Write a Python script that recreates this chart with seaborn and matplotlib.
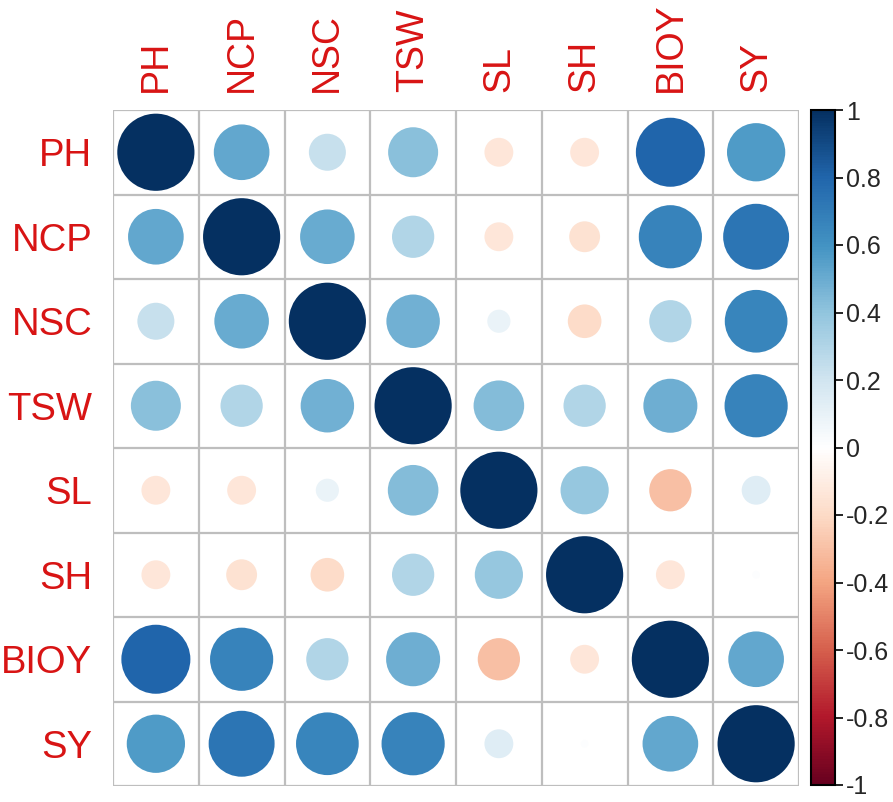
import numpy as np
import pandas as pd
import matplotlib
matplotlib.use("Agg")
import matplotlib.pyplot as plt
import seaborn as sns
from matplotlib.colors import LinearSegmentedColormap, Normalize
from matplotlib.cm import ScalarMappable

traits = ["PH", "NCP", "NSC", "TSW", "SL", "SH", "BIOY", "SY"]

# correlation rows
r_PH = [1.00, 0.52, 0.23, 0.42, -0.14, -0.14, 0.80, 0.57]
r_NCP = [0.52, 1.00, 0.50, 0.30, -0.14, -0.16, 0.67, 0.73]
r_NSC = [0.23, 0.50, 1.00, 0.48, 0.09, -0.19, 0.30, 0.66]
r_TSW = [0.42, 0.30, 0.48, 1.00, 0.43, 0.30, 0.49, 0.67]
r_SL = [-0.14, -0.14, 0.09, 0.43, 1.00, 0.39, -0.30, 0.14]
r_SH = [-0.14, -0.16, -0.19, 0.30, 0.39, 1.00, -0.14, 0.01]
r_BIOY = [0.80, 0.67, 0.30, 0.49, -0.30, -0.14, 1.00, 0.52]
r_SY = [0.57, 0.73, 0.66, 0.67, 0.14, 0.01, 0.52, 1.00]

cbar_ticks = [-1, -0.8, -0.6, -0.4, -0.2, 0, 0.2, 0.4, 0.6, 0.8, 1]
cbar_labels = ["-1", "-0.8", "-0.6", "-0.4", "-0.2", "0", "0.2", "0.4", "0.6", "0.8", "1"]

LABEL_RED = "#D81414"
GRID_GREY = "#BEBEBE"


def main():
    corr = pd.DataFrame([r_PH, r_NCP, r_NSC, r_TSW, r_SL, r_SH, r_BIOY, r_SY],
                        index=traits, columns=traits)
    long = corr.stack().reset_index()
    long.columns = ["row", "col", "r"]
    long["x"] = long["col"].map({t: i for i, t in enumerate(traits)})
    long["y"] = long["row"].map({t: i for i, t in enumerate(traits)})
    long["absr"] = long["r"].abs()

    # corrplot's RdBu ramp
    cmap = LinearSegmentedColormap.from_list("corr_rdbu", [
        "#67001F", "#B2182B", "#D6604D", "#F4A582", "#FDDBC7", "#FFFFFF",
        "#D1E5F0", "#92C5DE", "#4393C3", "#2166AC", "#053061"])

    sns.set_style("white")
    plt.rcParams["font.family"] = ["Liberation Sans", "DejaVu Sans"]

    fig = plt.figure(figsize=(8.93, 8.02), dpi=100)
    ax = fig.add_axes([113 / 893, 1 - 786 / 802, 686 / 893, 676 / 802])

    cell_px = 686 / 8
    smax = (0.9 * cell_px * 72 / 100) ** 2
    sns.scatterplot(data=long, x="x", y="y", hue="r", size="absr",
                    palette=cmap, hue_norm=(-1, 1),
                    sizes=(0, smax), size_norm=(0, 1),
                    linewidth=0, legend=False, ax=ax, zorder=3)

    ax.set_xlim(-0.5, len(traits) - 0.5)
    ax.set_ylim(len(traits) - 0.5, -0.5)
    for k in range(len(traits) + 1):
        ax.axhline(k - 0.5, color=GRID_GREY, lw=1.6, zorder=1)
        ax.axvline(k - 0.5, color=GRID_GREY, lw=1.6, zorder=1)
    for s in ax.spines.values():
        s.set_visible(False)

    ax.set_xticks(range(len(traits)))
    ax.set_yticks(range(len(traits)))
    ax.set_xticklabels(traits, rotation=90, color=LABEL_RED, fontsize=27)
    ax.set_yticklabels(traits, color=LABEL_RED, fontsize=27.5)
    ax.xaxis.tick_top()
    ax.tick_params(axis="x", length=0, pad=13)
    ax.tick_params(axis="y", length=0, pad=15)
    ax.set_xlabel("")
    ax.set_ylabel("")

    cax = fig.add_axes([811 / 893, 1 - 785 / 802, 24 / 893, 675 / 802])
    sm = ScalarMappable(norm=Normalize(-1, 1), cmap=cmap)
    cb = fig.colorbar(sm, cax=cax)
    cb.set_ticks(cbar_ticks)
    cb.set_ticklabels(cbar_labels)
    cb.outline.set_edgecolor("black")
    cb.outline.set_linewidth(1.5)
    cax.tick_params(length=6, width=1.2, color="black", labelsize=18, pad=2)

    fig.savefig("out.png", dpi=100)
    plt.close(fig)


if __name__ == "__main__":
    main()
